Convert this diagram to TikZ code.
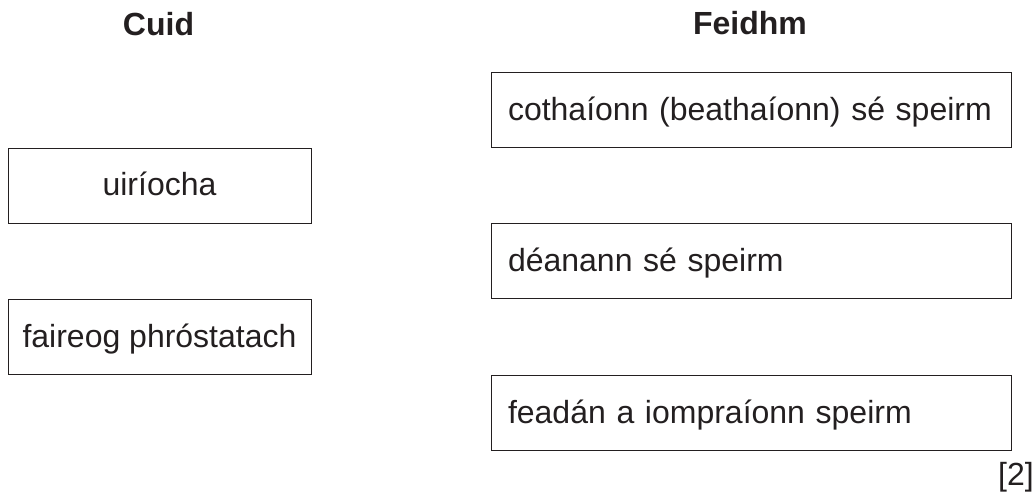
\documentclass[tikz,border=0pt]{standalone}
\usepackage{fontspec}
\setmainfont{Liberation Sans}
\usetikzlibrary{positioning}
\definecolor{ink}{RGB}{35,31,32}

\begin{document}
\begin{tikzpicture}[x=1pt,y=-1pt,node distance=75pt,text=ink,
    part node/.style={draw=ink,line width=0.9pt,minimum width=303pt,minimum height=75pt,inner sep=0pt,text height=22pt,text depth=1pt,font=\fontsize{32}{38}\selectfont},
    role node/.style={part node,minimum width=520pt,text width=486pt,align=left,inner xsep=17pt},
    head node/.style={anchor=base,inner sep=0pt,font=\fontsize{32}{38}\selectfont\bfseries}]
    \useasboundingbox (0,0) rectangle (1036,497);
    \node[head node] (cuid) at (158.5,36) {Cuid};
    \node[head node] (feidhm) at (750,35) {Feidhm};
    \node[part node] (u) at (159.5,185.5) {uiríocha};
    \node[part node] (p) [below=76pt of u] {faireog phróstatach};
    \node[role node] (r1) at (751,110) {cothaíonn (beathaíonn) sé speirm};
    \node[role node] (r2) [below=75pt of r1] {déanann sé speirm};
    \node[role node] (r3) [below=76pt of r2] {feadán a iompraíonn speirm};
    \node[anchor=base east,inner sep=0pt,font=\fontsize{32}{38}\selectfont] (marks) at (1034,485) {[2]};
  \end{tikzpicture}
\end{document}
